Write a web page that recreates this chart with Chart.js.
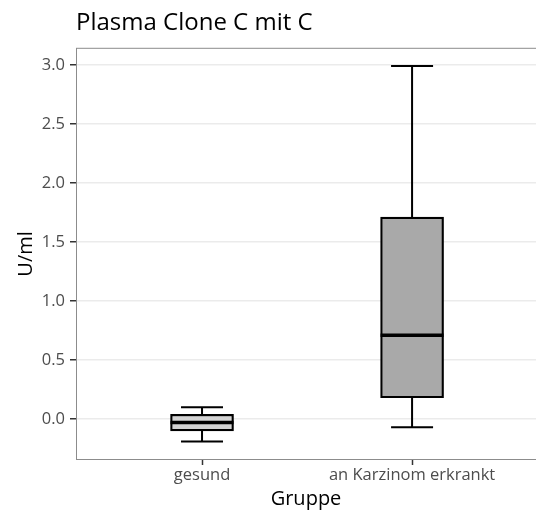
<!DOCTYPE html>
<html>
<head>
<meta charset="utf-8">
<script src="https://cdn.jsdelivr.net/npm/chart.js@4"></script>
<style>
  html, body { margin: 0; padding: 0; background: #fff; }
  #wrap { width: 536px; height: 511px; }
</style>
</head>
<body>
<div id="wrap"><canvas id="chart" width="536" height="511"></canvas></div>
<script>
// Box plot values
const groups = ['gesund', 'an Karzinom erkrankt'];
const groupPos = [1, 2];
const whiskerLow = [-0.19, -0.07];
const q1 = [-0.10, 0.18];
const median = [-0.03, 0.71];
const q3 = [0.04, 1.71];
const whiskerHigh = [0.10, 2.99];
const boxColors = ['#d3d3d3', '#a9a9a9'];
const yTicks = [0, 0.5, 1, 1.5, 2, 2.5, 3];

const FONT = "'Open Sans', 'Noto Sans', sans-serif";

// whiskers, caps and median drawn through the chart scales
const boxExtras = {
  id: 'boxExtras',
  afterDatasetsDraw(chart) {
    const { ctx, scales: { x, y } } = chart;
    ctx.save();
    ctx.strokeStyle = '#000';
    ctx.lineCap = 'butt';
    groupPos.forEach((pos, i) => {
      const cx = x.getPixelForValue(pos);
      const half = 31.5;
      const cap = 21;
      ctx.lineWidth = 2;
      ctx.beginPath();
      ctx.moveTo(cx, y.getPixelForValue(q3[i]));
      ctx.lineTo(cx, y.getPixelForValue(whiskerHigh[i]));
      ctx.moveTo(cx, y.getPixelForValue(q1[i]));
      ctx.lineTo(cx, y.getPixelForValue(whiskerLow[i]));
      ctx.moveTo(cx - cap, y.getPixelForValue(whiskerHigh[i]));
      ctx.lineTo(cx + cap, y.getPixelForValue(whiskerHigh[i]));
      ctx.moveTo(cx - cap, y.getPixelForValue(whiskerLow[i]));
      ctx.lineTo(cx + cap, y.getPixelForValue(whiskerLow[i]));
      ctx.stroke();
      ctx.lineWidth = 3.5;
      ctx.beginPath();
      ctx.moveTo(cx - half, y.getPixelForValue(median[i]));
      ctx.lineTo(cx + half, y.getPixelForValue(median[i]));
      ctx.stroke();
    });
    // panel border
    const a = chart.chartArea;
    ctx.lineWidth = 1;
    ctx.strokeStyle = '#8c8c8c';
    ctx.strokeRect(a.left + 0.5, a.top + 0.5, a.right - a.left + 4, a.bottom - a.top - 1);
    ctx.restore();
  }
};

new Chart(document.getElementById('chart'), {
  type: 'bar',
  data: {
    datasets: [{
      data: groupPos.map((p, i) => ({ x: p, y: [q1[i], q3[i]] })),
      backgroundColor: boxColors,
      borderColor: '#000',
      borderWidth: 2.2,
      borderSkipped: false,
      barThickness: 63
    }]
  },
  options: {
    responsive: false,
    animation: false,
    layout: { padding: 0 },
    plugins: {
      legend: { display: false },
      tooltip: { enabled: false },
      title: {
        display: true,
        text: 'Plasma Clone C mit C',
        align: 'start',
        fullSize: false,
        color: '#000',
        font: { family: FONT, size: 24, weight: 'normal' },
        padding: { top: 9, bottom: 10 }
      }
    },
    scales: {
      x: {
        type: 'linear',
        offset: false,
        min: 0.4,
        max: 2.59,
        afterBuildTicks: s => { s.ticks = groupPos.map(v => ({ value: v })); },
        afterFit: s => { s.height = 51; },
        grid: { display: true, offset: false, drawOnChartArea: false, tickLength: 5, tickColor: '#333', tickWidth: 1.5 },
        border: { display: false },
        ticks: {
          color: '#4d4d4d',
          font: { family: FONT, size: 16.5 },
          padding: 0,
          maxRotation: 0,
          autoSkip: false,
          callback: v => groups[groupPos.indexOf(v)]
        },
        title: {
          display: true,
          text: 'Gruppe',
          color: '#000',
          font: { family: FONT, size: 20 },
          padding: { top: 0, bottom: 0 }
        }
      },
      y: {
        min: -0.347,
        max: 3.144,
        afterBuildTicks: s => { s.ticks = yTicks.map(v => ({ value: v })); },
        afterFit: s => { s.width = 76; },
        grid: { color: '#ebebeb', lineWidth: 1.5, tickLength: 6, tickColor: '#333', tickWidth: 1.5 },
        border: { display: false },
        ticks: {
          color: '#4d4d4d',
          font: { family: FONT, size: 16.5 },
          padding: 5,
          callback: v => v.toFixed(1)
        },
        title: {
          display: true,
          text: 'U/ml',
          color: '#000',
          font: { family: FONT, size: 20 },
          padding: { top: 14, bottom: 0 }
        }
      }
    }
  },
  plugins: [boxExtras]
});
</script>
</body>
</html>
